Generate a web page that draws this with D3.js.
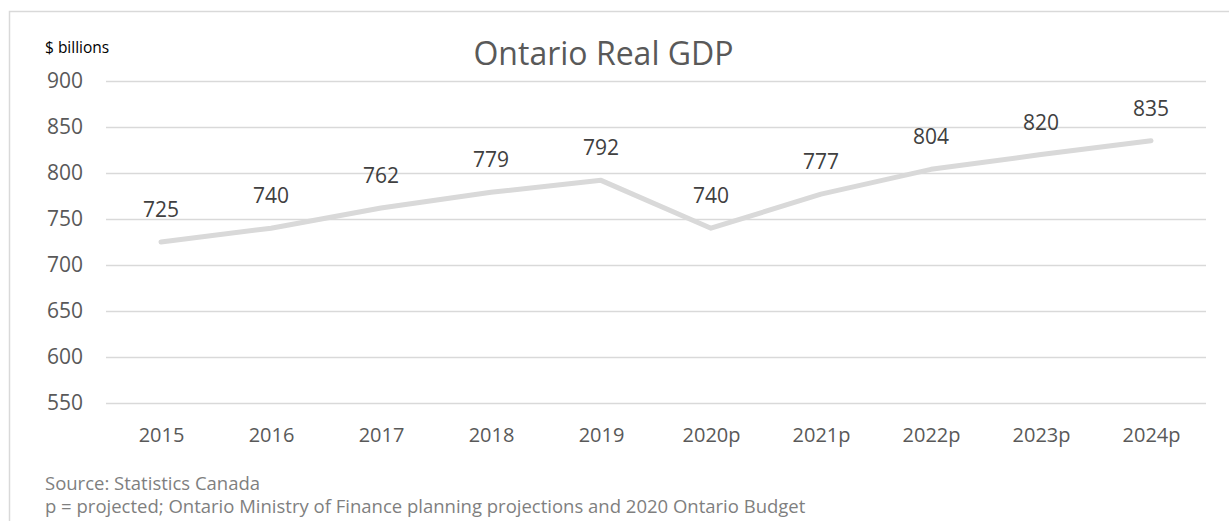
<!DOCTYPE html>
<html>
<head>
<meta charset="utf-8">
<script src="https://cdn.jsdelivr.net/npm/d3@7"></script>
<style>
  html, body { margin: 0; padding: 0; background: #fff; }
  svg { display: block; font-family: "Open Sans", "Noto Sans", sans-serif; }
</style>
</head>
<body>
<svg id="chart" width="1229" height="521"></svg>
<script>
// Ontario real GDP, $ billions (p = projected)
const years = ["2015", "2016", "2017", "2018", "2019", "2020p", "2021p", "2022p", "2023p", "2024p"];
const gdp = [725, 740, 762, 779, 792, 740, 777, 804, 820, 835];
const yTicks = [550, 600, 650, 700, 750, 800, 850, 900];
const titleText = "Ontario Real GDP";
const unitText = "$ billions";
const notes = [
  "Source: Statistics Canada",
  "p = projected; Ontario Ministry of Finance planning projections and 2020 Ontario Budget"
];

const svg = d3.select("#chart");
const W = 1229, H = 521;
const plot = { left: 106, right: 1206, top: 81, bottom: 403 };

// chart frame (only top and left edges fall inside the canvas)
svg.append("rect")
  .attr("x", 9.5).attr("y", 11.5)
  .attr("width", W + 20).attr("height", H + 20)
  .attr("fill", "none").attr("stroke", "#d9d9d9").attr("stroke-width", 1.5);

const x = d3.scalePoint().domain(years).range([plot.left, plot.right]).padding(0.5);
const y = d3.scaleLinear().domain([550, 900]).range([plot.bottom, plot.top]);

// horizontal gridlines with value labels
const yAxis = d3.axisLeft(y).tickValues(yTicks).tickSize(-(plot.right - plot.left)).tickPadding(23);
const gy = svg.append("g").attr("transform", `translate(${plot.left},0)`).call(yAxis);
gy.select(".domain").remove();
gy.selectAll(".tick line").attr("stroke", "#d9d9d9").attr("stroke-width", 1.3);
gy.selectAll(".tick text")
  .attr("fill", "#595959").attr("font-size", 21).attr("font-family", "Open Sans");

// category labels
const xAxis = d3.axisBottom(x).tickSize(0).tickPadding(0);
const gx = svg.append("g").attr("transform", `translate(0,${plot.bottom})`).call(xAxis);
gx.select(".domain").remove();
gx.selectAll(".tick text")
  .attr("fill", "#595959").attr("font-size", 20).attr("font-family", "Open Sans")
  .attr("dy", null).attr("y", 39);

// GDP line
const line = d3.line().x((d, i) => x(years[i])).y(d => y(d));
svg.append("path")
  .datum(gdp)
  .attr("d", line)
  .attr("fill", "none")
  .attr("stroke", "#d9d9d9")
  .attr("stroke-width", 5)
  .attr("stroke-linejoin", "round")
  .attr("stroke-linecap", "round");

// value labels above each point
svg.append("g").selectAll("text")
  .data(gdp)
  .join("text")
  .attr("x", (d, i) => x(years[i]))
  .attr("y", d => y(d) - 25)
  .attr("text-anchor", "middle")
  .attr("fill", "#404040")
  .attr("font-size", 21)
  .text(d => d);

// title
svg.append("text")
  .attr("x", 603.5).attr("y", 65)
  .attr("text-anchor", "middle")
  .attr("fill", "#595959")
  .attr("font-size", 32)
  .text(titleText);

// unit label
svg.append("text")
  .attr("x", 45).attr("y", 53)
  .attr("fill", "#000")
  .attr("font-size", 15.5)
  .text(unitText);

// footnotes
svg.append("g").selectAll("text")
  .data(notes)
  .join("text")
  .attr("x", 45)
  .attr("y", (d, i) => 490 + i * 23)
  .attr("fill", "#7f7f7f")
  .attr("font-size", 18.5)
  .text(d => d);
</script>
</body>
</html>
